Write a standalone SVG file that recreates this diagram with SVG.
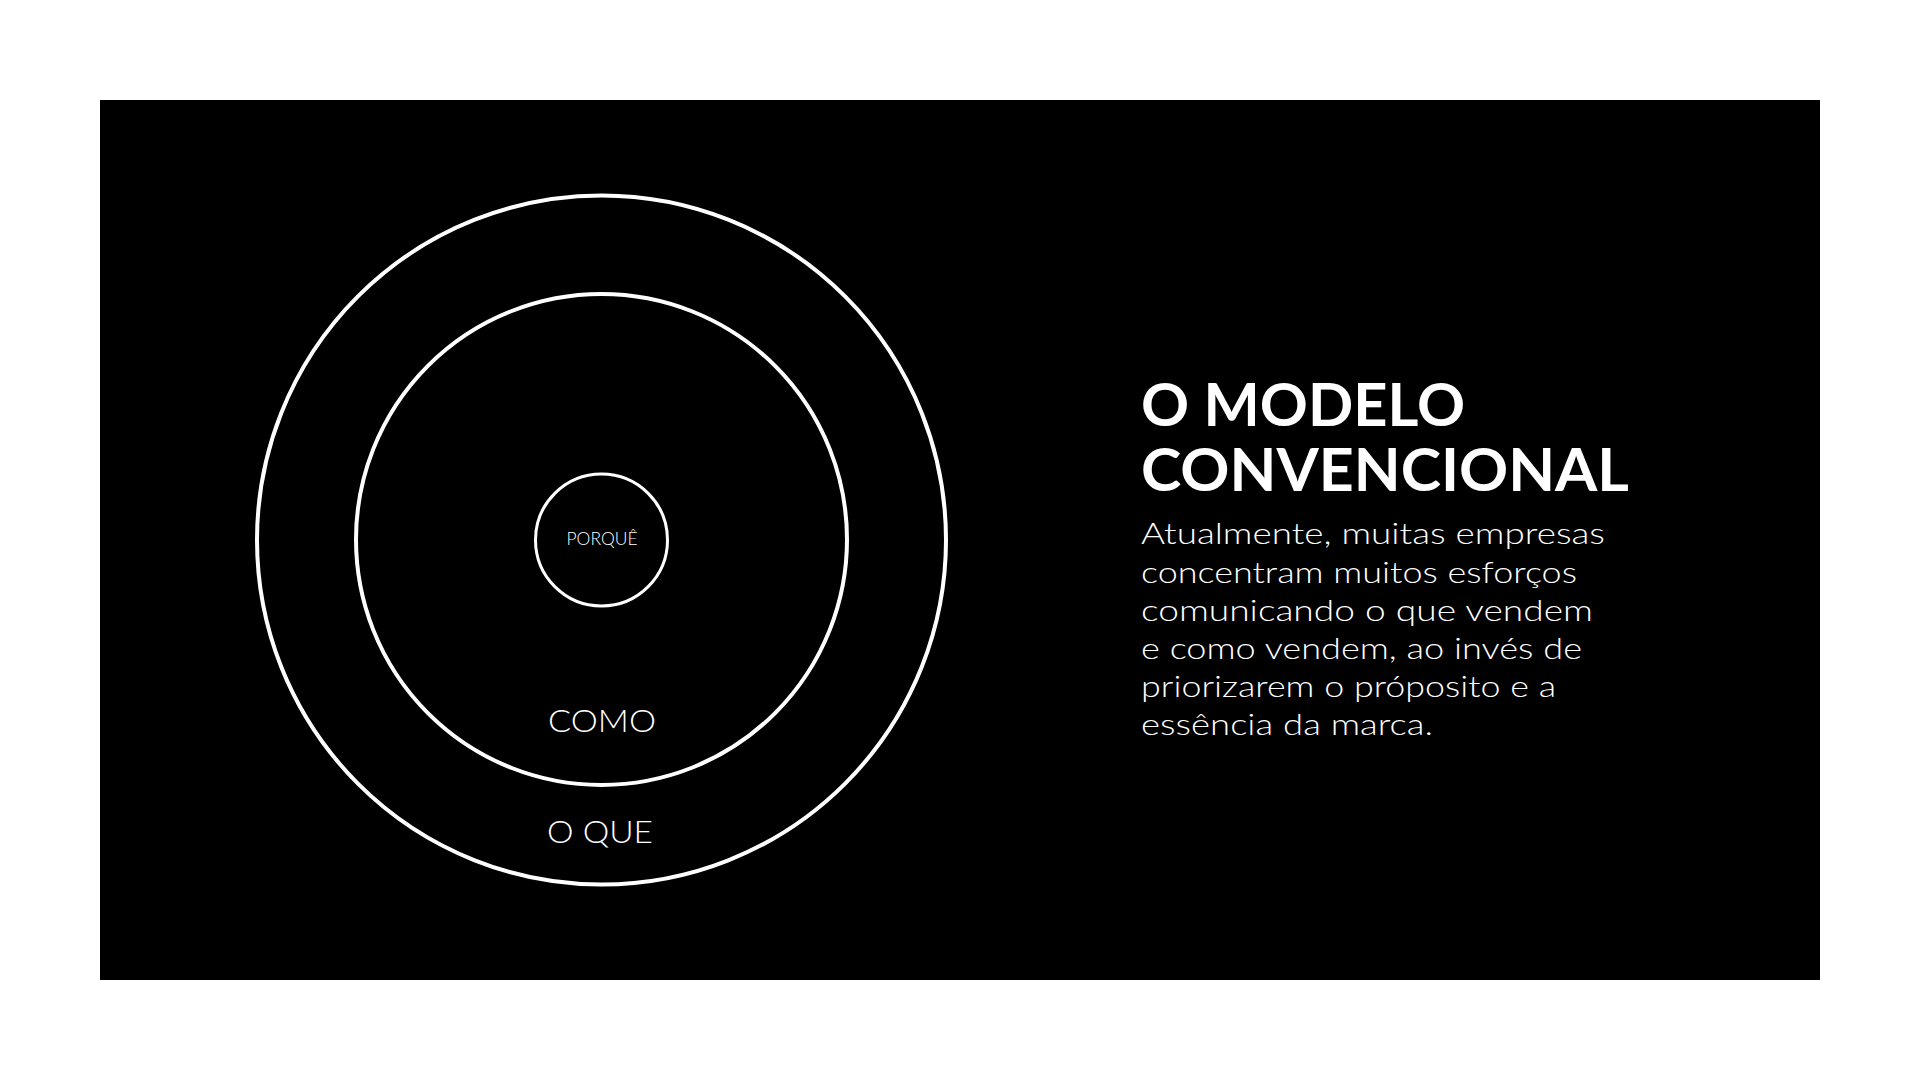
<svg xmlns="http://www.w3.org/2000/svg" width="1920" height="1080" viewBox="0 0 1920 1080">
  <style>
    .ring { fill: none; stroke: #ffffff; }
    .lbl { fill: #ffffff; font-family: "Lato", "Open Sans", "Liberation Sans", sans-serif; font-weight: 300; text-anchor: middle; }
    .title { fill: #ffffff; font-family: "Lato", "Open Sans", "Liberation Sans", sans-serif; font-weight: 700; font-size: 60px; }
    .body { fill: #ffffff; font-family: "Lato", "Open Sans", "Liberation Sans", sans-serif; font-weight: 300; font-size: 30px; }
  </style>
  <rect x="0" y="0" width="1920" height="1080" fill="#ffffff"/>
  <rect id="panel" x="100" y="100" width="1720" height="880" fill="#000000"/>
  <g id="connectors"/>
  <g id="node-oque">
    <circle class="ring" cx="601.5" cy="540" r="344.5" stroke-width="4"/>
    <text class="lbl" x="600" y="843" font-size="32" textLength="106" lengthAdjust="spacingAndGlyphs">O QUE</text>
  </g>
  <g id="node-como">
    <circle class="ring" cx="601.5" cy="539.5" r="245.5" stroke-width="4"/>
    <text class="lbl" x="602" y="732" font-size="32" textLength="108" lengthAdjust="spacingAndGlyphs">COMO</text>
  </g>
  <g id="node-porque">
    <circle class="ring" cx="601.5" cy="540" r="66" stroke-width="3"/>
    <text class="lbl" x="602" y="545" font-size="17" textLength="71" lengthAdjust="spacingAndGlyphs">PORQUÊ</text>
  </g>
  <g id="title">
    <text class="title" x="1141" y="426" textLength="324" lengthAdjust="spacingAndGlyphs">O MODELO</text>
    <text class="title" x="1141" y="491" textLength="488" lengthAdjust="spacingAndGlyphs">CONVENCIONAL</text>
  </g>
  <g id="description">
    <text class="body" x="1141" y="544" textLength="464" lengthAdjust="spacingAndGlyphs">Atualmente, muitas empresas</text>
    <text class="body" x="1141" y="582.5" textLength="436" lengthAdjust="spacingAndGlyphs">concentram muitos esforços</text>
    <text class="body" x="1141" y="621" textLength="452" lengthAdjust="spacingAndGlyphs">comunicando o que vendem</text>
    <text class="body" x="1141" y="659" textLength="441" lengthAdjust="spacingAndGlyphs">e como vendem, ao invés de</text>
    <text class="body" x="1141" y="697" textLength="415" lengthAdjust="spacingAndGlyphs">priorizarem o próposito e a</text>
    <text class="body" x="1141" y="735" textLength="292" lengthAdjust="spacingAndGlyphs">essência da marca.</text>
  </g>
</svg>
